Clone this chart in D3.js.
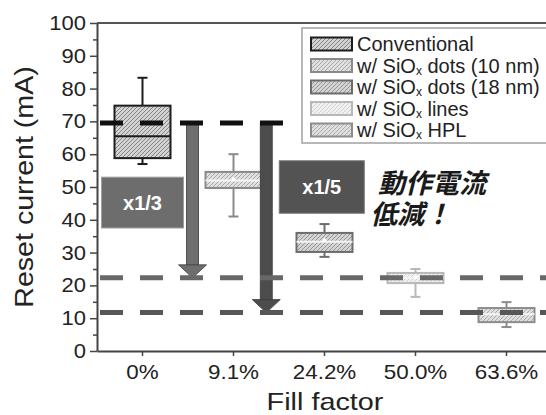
<!DOCTYPE html>
<html>
<head>
<meta charset="utf-8">
<script src="https://cdn.jsdelivr.net/npm/d3@7"></script>
<style>
  body { margin: 0; background: #fff; }
  svg { display: block; font-family: "Liberation Sans", Arial, Helvetica, sans-serif; }
</style>
</head>
<body>
<svg id="chart" width="546" height="415"></svg>
<script>
// --- data ---
const categories = ["0%", "9.1%", "24.2%", "50.0%", "63.6%"];
const seriesNames = ["Conventional", "w/ SiOx dots (10 nm)", "w/ SiOx dots (18 nm)", "w/ SiOx lines", "w/ SiOx HPL"];
const whiskerLow = [57, 41, 28.7, 16.5, 7.3];
const boxLow = [58.8, 49.7, 30.2, 20.7, 8.8];
const medians = [65.5, 52, 33.3, 22.3, 11.2];
const boxHigh = [74.8, 54.6, 36, 23.8, 13.1];
const whiskerHigh = [83.3, 60, 38.7, 25, 14.9];
const means = [null, 52.4, 33.8, 22.6, 11.2];

// reference levels (dashed) and where each ends, in category-index units
const refLevels = [69.5, 22.3, 11.7];
const refEnds = [1.56, 4.5, 4.5];

// reduction arrows: position (category index), from/to level
const arrowAt = [0.55, 1.36];
const arrowTo = [22.3, 11.7];
const factorLabels = ["x1/3", "x1/5"];
const factorCenter = [0, 1.97];
const factorLow = [37.5, 42];
const factorHigh = [53, 58];

const yTicks = d3.range(0, 101, 10);
const yMinor = d3.range(5, 100, 10);

// --- styles ---
const styles = [
    { bg: "#d2d2d2", hatch: "#858585", stroke: "#1c1c1c" },
    { bg: "#e0e0e0", hatch: "#a8a8a8", stroke: "#8a8a8a" },
    { bg: "#d4d4d4", hatch: "#969696", stroke: "#6c6c6c" },
    { bg: "#f1f1f1", hatch: "#d2d2d2", stroke: "#b8b8b8" },
    { bg: "#e0e0e0", hatch: "#ababab", stroke: "#8c8c8c" }
];

const svg = d3.select("#chart");
svg.append("rect").attr("width", 546).attr("height", 415).attr("fill", "#fff");

// --- hatch patterns ---
const defs = svg.append("defs");
styles.forEach((s, i) => {
    const p = defs.append("pattern")
        .attr("id", "hatch" + i)
        .attr("patternUnits", "userSpaceOnUse")
        .attr("width", 4).attr("height", 4);
    p.append("rect").attr("width", 4).attr("height", 4).attr("fill", s.bg);
    p.append("path")
        .attr("d", "M-1,1 l2,-2 M0,4 l4,-4 M3,5 l2,-2")
        .attr("stroke", s.hatch).attr("stroke-width", 1);
});

// --- scales ---
const x = d3.scaleBand().domain(categories).range([97, 552]);
const xi = d3.scaleLinear().domain([-0.5, 4.5]).range([97, 552]);
const y = d3.scaleLinear().domain([0, 100]).range([351, 23]);
const boxW = 56;

// --- frame top ---
svg.append("line")
    .attr("x1", 97).attr("x2", 552)
    .attr("y1", y(100)).attr("y2", y(100))
    .attr("stroke", "#555").attr("stroke-width", 2);

// --- boxes ---
categories.forEach((c, i) => {
    const cx = x(c) + x.bandwidth() / 2;
    const s = styles[i];
    const g = svg.append("g");
    // whiskers
    g.append("line")
        .attr("x1", cx).attr("x2", cx)
        .attr("y1", y(whiskerLow[i])).attr("y2", y(whiskerHigh[i]))
        .attr("stroke", s.stroke).attr("stroke-width", 2);
    [whiskerLow[i], whiskerHigh[i]].forEach(v => {
        g.append("line")
            .attr("x1", cx - 5).attr("x2", cx + 5)
            .attr("y1", y(v)).attr("y2", y(v))
            .attr("stroke", s.stroke).attr("stroke-width", 2);
    });
    g.append("rect")
        .attr("x", cx - boxW / 2).attr("width", boxW)
        .attr("y", y(boxHigh[i])).attr("height", y(boxLow[i]) - y(boxHigh[i]))
        .attr("fill", `url(#hatch${i})`)
        .attr("stroke", s.stroke).attr("stroke-width", 2);
    g.append("line")
        .attr("x1", cx - boxW / 2).attr("x2", cx + boxW / 2)
        .attr("y1", y(medians[i])).attr("y2", y(medians[i]))
        .attr("stroke", i === 0 ? s.stroke : "#f4f4f4").attr("stroke-width", 2);
    if (means[i] !== null) {
        g.append("circle")
            .attr("cx", cx).attr("cy", y(means[i])).attr("r", 1.8)
            .attr("fill", "#fff");
    }
});

// --- factor label boxes ---
factorLabels.forEach((t, i) => {
    const cx = xi(factorCenter[i]);
    const w = i === 0 ? 82 : 85;
    svg.append("rect")
        .attr("x", cx - w / 2).attr("width", w)
        .attr("y", y(factorHigh[i])).attr("height", y(factorLow[i]) - y(factorHigh[i]))
        .attr("fill", i === 0 ? "#6d6d6d" : "#535353")
        .attr("stroke", i === 0 ? "#a0a0a0" : "#777").attr("stroke-width", 1);
    svg.append("text")
        .attr("x", cx).attr("y", (y(factorHigh[i]) + y(factorLow[i])) / 2 + 7)
        .attr("text-anchor", "middle")
        .attr("fill", "#fff")
        .attr("font-size", "20px")
        .attr("font-weight", "bold")
        .text(t);
});

// --- arrows ---
arrowAt.forEach((a, i) => {
    const cx = xi(a);
    const col = i === 0 ? "#6e6e6e" : "#4c4c4c";
    const yTop = y(refLevels[0]);
    const yEnd = y(arrowTo[i]);
    svg.append("rect")
        .attr("x", cx - 6).attr("width", 12)
        .attr("y", yTop).attr("height", yEnd - 12 - yTop)
        .attr("fill", col).attr("stroke", "#3a3a3a").attr("stroke-width", 0.8);
    svg.append("path")
        .attr("d", `M${cx - 14},${yEnd - 13} L${cx + 14},${yEnd - 13} L${cx},${yEnd} Z`)
        .attr("fill", col).attr("stroke", "#3a3a3a").attr("stroke-width", 0.8);
});

// --- dashed reference lines ---
const refColors = ["#111", "#686868", "#575757"];
refLevels.forEach((v, i) => {
    svg.append("line")
        .attr("x1", 97).attr("x2", xi(refEnds[i]))
        .attr("y1", y(v)).attr("y2", y(v))
        .attr("stroke", refColors[i])
        .attr("stroke-width", 5)
        .attr("stroke-dasharray", "23,17")
        .attr("stroke-dashoffset", 37);
});

// --- axes ---
const yAxis = svg.append("g")
    .attr("transform", "translate(97,0)")
    .call(d3.axisLeft(y).tickValues(yTicks).tickSize(7).tickPadding(3).tickSizeOuter(0));
svg.append("g")
    .attr("transform", "translate(97,0)")
    .call(d3.axisLeft(y).tickValues(yMinor).tickSize(4).tickFormat(""))
    .call(g => g.select(".domain").remove())
    .selectAll("line").attr("stroke", "#444").attr("stroke-width", 1.5);

yAxis.select(".domain").attr("stroke", "#444").attr("stroke-width", 2);
yAxis.selectAll(".tick line").attr("stroke", "#444").attr("stroke-width", 1.5);
yAxis.selectAll(".tick text")
    .attr("fill", "#222")
    .attr("font-size", "20px")
    .attr("font-family", "Liberation Sans, Arial, sans-serif")
    .attr("transform", "scale(1.1,1)");

const xAxis = svg.append("g")
    .attr("transform", `translate(0,${y(0)})`)
    .call(d3.axisBottom(x).tickSize(5).tickPadding(9).tickSizeOuter(0));
xAxis.select(".domain").attr("stroke", "#444").attr("stroke-width", 2);
xAxis.selectAll(".tick line").attr("stroke", "#444").attr("stroke-width", 1.5);
xAxis.selectAll(".tick text")
    .attr("fill", "#222")
    .attr("font-size", "20px")
    .attr("font-family", "Liberation Sans, Arial, sans-serif")
    .attr("transform", "scale(1.12,1)");

// --- axis titles ---
svg.append("text")
    .attr("transform", "translate(33,187) rotate(-90) scale(1.1,1)")
    .attr("text-anchor", "middle")
    .attr("fill", "#222")
    .attr("font-size", "26px")
    .text("Reset current (mA)");

svg.append("text")
    .attr("transform", "translate(325,410) scale(1.2,1)")
    .attr("text-anchor", "middle")
    .attr("fill", "#222")
    .attr("font-size", "24px")
    .text("Fill factor");

// --- legend ---
const legend = svg.append("g");
legend.append("rect")
    .attr("x", 302).attr("y", 28).attr("width", 260).attr("height", 115)
    .attr("fill", "#fff").attr("stroke", "#a0a0a0").attr("stroke-width", 1.5);
seriesNames.forEach((name, i) => {
    const cy = 44 + i * 21.5;
    legend.append("rect")
        .attr("x", 311).attr("y", cy - 6.5).attr("width", 41).attr("height", 13)
        .attr("fill", `url(#hatch${i})`)
        .attr("stroke", styles[i].stroke).attr("stroke-width", 2);
    const t = legend.append("text")
        .attr("x", 357).attr("y", cy + 7)
        .attr("fill", "#222")
        .attr("font-size", "20px");
    const parts = name.split("SiOx");
    if (parts.length === 1) {
        t.text(name);
    } else {
        t.append("tspan").text(parts[0] + "SiO");
        t.append("tspan").attr("font-size", "12px").attr("dy", 2).text("x");
        t.append("tspan").attr("dy", -2).text(parts[1]);
    }
});

// --- Japanese annotation (slanted by hand: the CJK font has no italic) ---
const jp = svg.append("text")
    .attr("transform", "translate(378,193) skewX(-14)")
    .attr("fill", "#1a1a1a")
    .attr("font-family", "Noto Sans CJK JP, sans-serif")
    .attr("font-weight", "bold")
    .attr("font-size", "27px");
jp.append("tspan").attr("x", 0).attr("y", 0).text("動作電流");
jp.append("tspan").attr("x", 0).attr("y", 31).text("低減！");
</script>
</body>
</html>
